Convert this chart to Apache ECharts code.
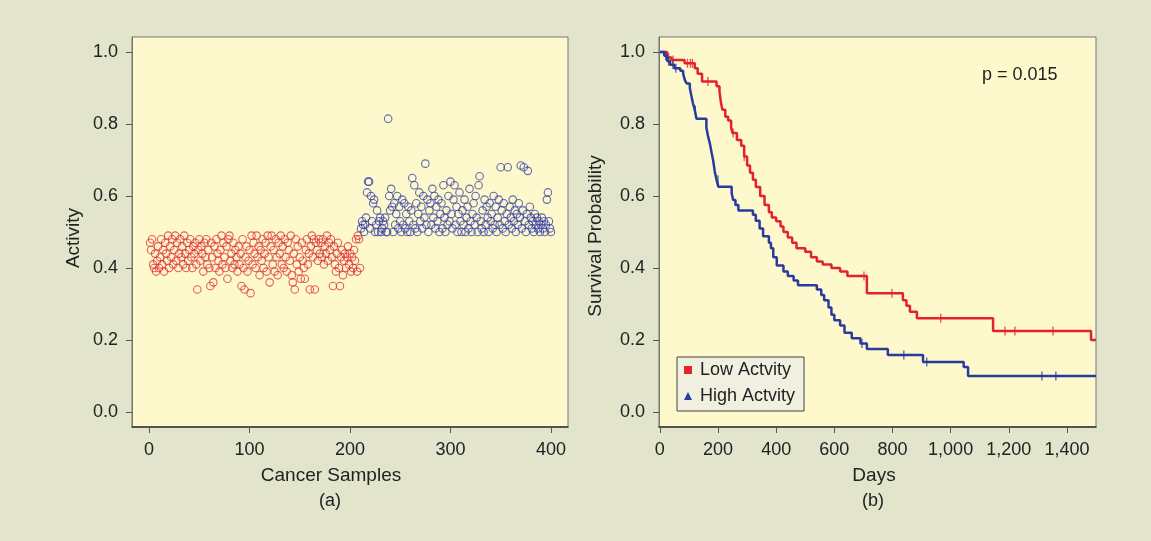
<!DOCTYPE html>
<html>
<head>
<meta charset="utf-8">
<script src="https://cdn.jsdelivr.net/npm/echarts@6/dist/echarts.min.js"></script>
<style>
  html, body { margin: 0; padding: 0; background: #e2e4cb; }
  #chart { width: 1151px; height: 541px; }
</style>
</head>
<body>
<div id="chart"></div>
<script>
// (a) activity per cancer sample; samples 1-210 low group, 211-400 high group
const lowActivity = [
  0.47,0.45,0.48,0.41,0.40,0.44,0.39,0.42,0.46,0.40,
  0.43,0.48,0.41,0.45,0.39,0.47,0.44,0.42,0.49,0.40,
  0.46,0.43,0.48,0.41,0.45,0.49,0.42,0.47,0.40,0.44,
  0.48,0.43,0.46,0.41,0.49,0.44,0.40,0.47,0.42,0.45,
  0.48,0.43,0.40,0.46,0.44,0.47,0.41,0.34,0.45,0.48,
  0.42,0.46,0.44,0.39,0.47,0.43,0.48,0.41,0.45,0.40,
  0.35,0.47,0.43,0.36,0.46,0.40,0.48,0.44,0.42,0.39,
  0.45,0.49,0.41,0.47,0.43,0.40,0.46,0.37,0.48,0.49,
  0.42,0.44,0.40,0.47,0.41,0.45,0.43,0.39,0.46,0.41,
  0.44,0.35,0.48,0.40,0.34,0.43,0.46,0.39,0.42,0.45,
  0.33,0.49,0.41,0.47,0.44,0.40,0.49,0.43,0.46,0.38,
  0.45,0.42,0.48,0.40,0.44,0.47,0.39,0.49,0.43,0.36,
  0.46,0.49,0.41,0.45,0.39,0.48,0.43,0.38,0.47,0.44,
  0.49,0.41,0.46,0.40,0.48,0.43,0.39,0.47,0.45,0.42,
  0.49,0.38,0.36,0.44,0.34,0.48,0.41,0.46,0.39,0.43,
  0.37,0.47,0.42,0.40,0.37,0.45,0.48,0.41,0.44,0.34,
  0.46,0.49,0.43,0.48,0.34,0.47,0.45,0.42,0.48,0.44,
  0.47,0.43,0.48,0.41,0.46,0.44,0.49,0.42,0.47,0.45,
  0.48,0.43,0.35,0.46,0.41,0.39,0.44,0.47,0.40,0.35,
  0.43,0.45,0.38,0.42,0.44,0.40,0.43,0.46,0.41,0.44,
  0.39,0.43,0.40,0.45,0.42,0.48,0.39,0.49,0.48,0.40
];
const highActivity = [
  0.51,0.53,0.52,0.50,0.52,0.54,0.61,0.64,0.64,0.51,
  0.60,0.53,0.58,0.59,0.50,0.52,0.56,0.50,0.53,0.54,
  0.50,0.51,0.53,0.52,0.54,0.50,0.50,0.815,0.60,0.56,
  0.62,0.57,0.50,0.58,0.52,0.55,0.60,0.51,0.57,0.53,
  0.50,0.59,0.52,0.58,0.51,0.55,0.50,0.57,0.53,0.50,
  0.56,0.65,0.52,0.63,0.51,0.58,0.50,0.55,0.61,0.53,
  0.57,0.51,0.60,0.54,0.69,0.52,0.59,0.50,0.56,0.58,
  0.52,0.62,0.54,0.60,0.51,0.57,0.53,0.59,0.50,0.55,
  0.58,0.51,0.63,0.54,0.50,0.56,0.52,0.60,0.53,0.64,
  0.55,0.51,0.59,0.63,0.52,0.57,0.50,0.55,0.61,0.53,
  0.50,0.56,0.52,0.59,0.50,0.54,0.57,0.51,0.62,0.53,
  0.50,0.55,0.58,0.52,0.60,0.54,0.50,0.63,0.655,0.53,
  0.51,0.56,0.50,0.59,0.52,0.57,0.54,0.50,0.58,0.53,
  0.55,0.51,0.60,0.52,0.57,0.50,0.54,0.59,0.52,0.68,
  0.56,0.51,0.58,0.53,0.50,0.55,0.68,0.52,0.57,0.54,
  0.51,0.59,0.53,0.56,0.50,0.55,0.52,0.58,0.54,0.685,
  0.51,0.56,0.68,0.53,0.50,0.55,0.67,0.52,0.57,0.54,
  0.51,0.53,0.50,0.55,0.52,0.54,0.51,0.53,0.50,0.52,
  0.54,0.51,0.53,0.50,0.52,0.59,0.61,0.53,0.51,0.50
];
const sampleTicks = [0, 100, 200, 300, 400];
const probTicks = [0, 0.2, 0.4, 0.6, 0.8, 1.0];
const dayTicks = [0, 200, 400, 600, 800, 1000, 1200, 1400];

// (b) Kaplan-Meier steps: event day and survival after it
const lowDays = [0,25,40,85,120,130,145,195,205,210,215,225,235,245,250,265,280,290,300,310,320,330,345,360,375,385,400,415,425,440,455,470,500,520,540,560,590,620,645,712,836,848,860,884,1146,1483,1500];
const lowSurv = [1.0,0.985,0.978,0.969,0.955,0.94,0.918,0.905,0.89,0.86,0.84,0.82,0.81,0.79,0.775,0.756,0.74,0.71,0.685,0.665,0.645,0.625,0.60,0.575,0.555,0.54,0.53,0.515,0.50,0.485,0.47,0.455,0.445,0.43,0.418,0.41,0.40,0.39,0.378,0.33,0.31,0.295,0.278,0.26,0.225,0.20,0.20];
const lowCensor = [30,45,95,105,112,165,252,290,702,798,966,1187,1221,1352];

const highDays = [0,15,25,35,50,70,80,86,92,103,109,114,120,126,160,166,172,178,183,189,195,201,247,252,260,270,320,330,343,355,375,382,390,402,425,440,460,475,540,555,565,580,590,600,620,635,660,690,712,784,905,1045,1060,1500];
const highSurv = [1.0,0.99,0.975,0.965,0.955,0.948,0.94,0.922,0.913,0.90,0.876,0.857,0.839,0.815,0.79,0.765,0.746,0.72,0.70,0.667,0.645,0.626,0.608,0.589,0.575,0.56,0.548,0.531,0.51,0.488,0.47,0.455,0.43,0.407,0.39,0.378,0.365,0.352,0.34,0.325,0.31,0.29,0.27,0.255,0.24,0.22,0.205,0.19,0.175,0.158,0.139,0.125,0.10,0.10];
const highCensor = [20,30,45,55,122,200,695,839,918,1314,1362];

const redColor = '#e3222c';
const blueColor = '#2b3a9e';
const textColor = '#222';

function survAt(days, surv, t) {
  let s = surv[0];
  for (let i = 0; i < days.length; i++) {
    if (days[i] <= t) s = surv[i];
  }
  return s;
}

const chart = echarts.init(document.getElementById('chart'));

const tickStyle = { lineStyle: { color: '#555', width: 1 }, length: 6 };
const labelFont = { fontFamily: 'Liberation Sans', fontSize: 18, color: textColor };

const option = {
  backgroundColor: '#e2e4cb',
  animation: false,
  grid: [
    { left: 132, top: 37, width: 436, height: 390, show: true, backgroundColor: '#fef9cc', borderColor: '#777', borderWidth: 1 },
    { left: 659, top: 37, width: 437, height: 390, show: true, backgroundColor: '#fef9cc', borderColor: '#777', borderWidth: 1 }
  ],
  xAxis: [
    {
      gridIndex: 0, type: 'value', min: -17, max: 417,
      splitLine: { show: false },
      axisLine: { onZero: false, lineStyle: { color: '#333', width: 1.5 } },
      axisTick: Object.assign({ customValues: sampleTicks }, tickStyle),
      axisLabel: Object.assign({ customValues: sampleTicks, margin: 14 }, labelFont)
    },
    {
      gridIndex: 1, type: 'value', min: -3, max: 1500,
      splitLine: { show: false },
      axisLine: { onZero: false, lineStyle: { color: '#333', width: 1.5 } },
      axisTick: Object.assign({ customValues: dayTicks }, tickStyle),
      axisLabel: Object.assign({ customValues: dayTicks, margin: 14,
        formatter: v => v.toLocaleString('en-US') }, labelFont)
    }
  ],
  yAxis: [
    {
      gridIndex: 0, type: 'value', min: -0.042, max: 1.042,
      splitLine: { show: false },
      axisLine: { show: true, onZero: false, lineStyle: { color: '#777' } },
      axisTick: Object.assign({ customValues: probTicks }, tickStyle),
      axisLabel: Object.assign({ customValues: probTicks, margin: 14,
        formatter: v => v.toFixed(1) }, labelFont)
    },
    {
      gridIndex: 1, type: 'value', min: -0.042, max: 1.042,
      splitLine: { show: false },
      axisLine: { show: true, onZero: false, lineStyle: { color: '#777' } },
      axisTick: Object.assign({ customValues: probTicks }, tickStyle),
      axisLabel: Object.assign({ customValues: probTicks, margin: 14,
        formatter: v => v.toFixed(1) }, labelFont)
    }
  ],
  legend: {
    data: [
      { name: 'Low Actvity', icon: 'rect' },
      { name: 'High Actvity', icon: 'triangle' }
    ],
    orient: 'vertical',
    left: 677, top: 357,
    itemWidth: 8, itemHeight: 8, itemGap: 8,
    padding: [4, 9, 6, 7],
    backgroundColor: '#f1efdf',
    borderColor: '#444', borderWidth: 1,
    textStyle: { fontFamily: 'Liberation Sans', fontSize: 18, color: textColor, padding: [0, 0, 0, 3] }
  },
  graphic: [
    { type: 'text', left: 982, top: 66, style: { text: 'p = 0.015', font: '18px "Liberation Sans"', fill: textColor } },
    { type: 'text', x: 331, y: 476, style: { text: 'Cancer Samples', font: '19px "Liberation Sans"', fill: textColor, align: 'center', verticalAlign: 'middle' } },
    { type: 'text', x: 330, y: 501, style: { text: '(a)', font: '18px "Liberation Sans"', fill: textColor, align: 'center', verticalAlign: 'middle' } },
    { type: 'text', x: 874, y: 476, style: { text: 'Days', font: '19px "Liberation Sans"', fill: textColor, align: 'center', verticalAlign: 'middle' } },
    { type: 'text', x: 873, y: 501, style: { text: '(b)', font: '18px "Liberation Sans"', fill: textColor, align: 'center', verticalAlign: 'middle' } },
    { type: 'text', x: 74, y: 238, rotation: Math.PI / 2, style: { text: 'Activity', font: '19px "Liberation Sans"', fill: textColor, align: 'center', verticalAlign: 'middle' } },
    { type: 'text', x: 596, y: 236, rotation: Math.PI / 2, style: { text: 'Survival Probability', font: '19px "Liberation Sans"', fill: textColor, align: 'center', verticalAlign: 'middle' } }
  ],
  series: [
    {
      name: 'low samples', type: 'scatter', xAxisIndex: 0, yAxisIndex: 0,
      symbol: 'circle', symbolSize: 7.5,
      itemStyle: { color: 'rgba(0,0,0,0)', borderColor: '#e0343c', borderWidth: 1.1 },
      data: lowActivity.map((v, i) => [i + 1, v])
    },
    {
      name: 'high samples', type: 'scatter', xAxisIndex: 0, yAxisIndex: 0,
      symbol: 'circle', symbolSize: 7.5,
      itemStyle: { color: 'rgba(0,0,0,0)', borderColor: '#3a44a8', borderWidth: 1.1 },
      data: highActivity.map((v, i) => [lowActivity.length + i + 1, v])
    },
    {
      name: 'Low Actvity', type: 'line', xAxisIndex: 1, yAxisIndex: 1,
      step: 'end', showSymbol: false, symbol: 'none',
      lineStyle: { color: redColor, width: 2.5 },
      itemStyle: { color: redColor },
      data: lowDays.map((d, i) => [d, lowSurv[i]]),
      z: 3
    },
    {
      name: 'High Actvity', type: 'line', xAxisIndex: 1, yAxisIndex: 1,
      step: 'end', showSymbol: false, symbol: 'none',
      lineStyle: { color: blueColor, width: 2.5 },
      itemStyle: { color: blueColor },
      data: highDays.map((d, i) => [d, highSurv[i]]),
      z: 4
    },
    {
      name: 'low censor', type: 'scatter', xAxisIndex: 1, yAxisIndex: 1,
      symbol: 'rect', symbolSize: [1.3, 9],
      itemStyle: { color: redColor },
      data: lowCensor.map(t => [t, survAt(lowDays, lowSurv, t)]),
      z: 5
    },
    {
      name: 'high censor', type: 'scatter', xAxisIndex: 1, yAxisIndex: 1,
      symbol: 'rect', symbolSize: [1.3, 9],
      itemStyle: { color: blueColor },
      data: highCensor.map(t => [t, survAt(highDays, highSurv, t)]),
      z: 5
    }
  ]
};

chart.setOption(option);
</script>
</body>
</html>
